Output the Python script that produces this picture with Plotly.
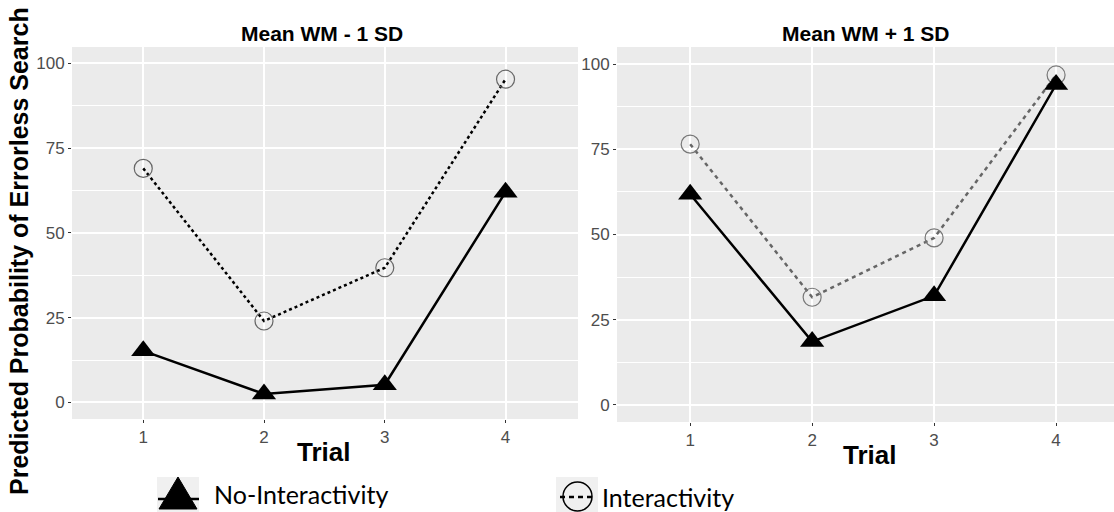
import plotly.graph_objects as go

# ---- data ----
trials = [1, 2, 3, 4]
low_no_int = [15.2, 2.5, 5.2, 62.0]
low_int = [69.0, 24.0, 39.7, 95.3]
high_no_int = [61.8, 18.6, 32.0, 94.0]
high_int = [76.5, 31.6, 49.0, 96.8]
panel_titles = ["Mean WM - 1 SD", "Mean WM + 1 SD"]
y_ticks = [0, 25, 50, 75, 100]
legend_labels = ["No-Interactivity", "Interactivity"]

W, H = 1114, 512
TXT = "Liberation Sans, Arial, sans-serif"
BG = "#ebebeb"

def px(x):
    return x / W

def py(y):
    return 1 - y / H

fig = go.Figure()

# left panel
fig.add_trace(go.Scatter(x=trials, y=low_int, mode="lines+markers",
                         line=dict(color="black", width=2.5, dash="3px,3px"),
                         marker=dict(symbol="circle-open", size=18, color="#666666", line=dict(width=1.2)),
                         xaxis="x", yaxis="y", showlegend=False))
fig.add_trace(go.Scatter(x=trials, y=low_no_int, mode="lines+markers",
                         line=dict(color="black", width=2.5),
                         marker=dict(symbol="triangle-up", size=21, color="black"),
                         xaxis="x", yaxis="y", showlegend=False))
# right panel
fig.add_trace(go.Scatter(x=trials, y=high_int, mode="lines+markers",
                         line=dict(color="#666666", width=2.5, dash="4px,4px"),
                         marker=dict(symbol="circle-open", size=18, color="#777777", line=dict(width=1.2)),
                         xaxis="x2", yaxis="y2", showlegend=False))
fig.add_trace(go.Scatter(x=trials, y=high_no_int, mode="lines+markers",
                         line=dict(color="black", width=2.5),
                         marker=dict(symbol="triangle-up", size=21, color="black"),
                         xaxis="x2", yaxis="y2", showlegend=False))

common_x = dict(tickvals=trials, ticktext=[str(t) for t in trials], showgrid=True,
                gridcolor="white", gridwidth=1.5, zeroline=False, ticks="outside",
                ticklen=3, tickcolor="#333333", tickfont=dict(family=TXT, size=17, color="#4d4d4d"),
                showline=False)
common_y = dict(tickvals=y_ticks, showgrid=True, gridcolor="white", gridwidth=1.5,
                zeroline=False, ticks="outside", ticklen=3, tickcolor="#333333",
                tickfont=dict(family=TXT, size=17, color="#4d4d4d"),
                minor=dict(tickvals=[12.5, 37.5, 62.5, 87.5], showgrid=True, gridcolor="white", gridwidth=0.7, ticks=""),
                showline=False)

fig.update_layout(
    width=W, height=H, margin=dict(l=0, r=0, t=0, b=0),
    paper_bgcolor="white", plot_bgcolor=BG,
    xaxis=dict(domain=[px(72), px(578)], range=[0.41, 4.6], anchor="y", **common_x),
    yaxis=dict(domain=[py(419), py(47)], range=[-4.9, 104.8], anchor="x", **common_y),
    xaxis2=dict(domain=[px(617), 1.0], range=[0.4, 4.475], anchor="y2", **common_x),
    yaxis2=dict(domain=[py(422), py(47)], range=[-5.0, 105.0], anchor="x2", **common_y),
)

# legend keys (drawn in paper coordinates)
def P(x, y):
    return f"{px(x):.5f},{py(y):.5f}"

shapes = [
    dict(type="rect", xref="paper", yref="paper", x0=px(157), x1=px(199), y0=py(512), y1=py(477),
         fillcolor="#f0f0f0", line=dict(width=0), layer="below"),
    dict(type="rect", xref="paper", yref="paper", x0=px(556), x1=px(598), y0=py(512), y1=py(477),
         fillcolor="#f0f0f0", line=dict(width=0), layer="below"),
    dict(type="line", xref="paper", yref="paper", x0=px(158), x1=px(199), y0=py(499), y1=py(499),
         line=dict(color="black", width=2.5)),
    dict(type="path", xref="paper", yref="paper",
         path=f"M {P(159, 509)} L {P(197, 509)} L {P(178, 477)} Z",
         fillcolor="black", line=dict(color="black", width=1)),
    dict(type="line", xref="paper", yref="paper", x0=px(560), x1=px(594), y0=py(497), y1=py(497),
         line=dict(color="black", width=2.5, dash="5px,4px")),
    dict(type="circle", xref="paper", yref="paper", x0=px(563), x1=px(592), y0=py(511), y1=py(482),
         line=dict(color="black", width=1.5), fillcolor="rgba(0,0,0,0)"),
]
fig.update_layout(shapes=shapes)

ann = []
ann.append(dict(text="<b>" + panel_titles[0] + "</b>", x=px(322), y=py(33), xref="paper", yref="paper",
                showarrow=False, font=dict(family=TXT, size=21, color="black"), xanchor="center", yanchor="middle"))
ann.append(dict(text="<b>" + panel_titles[1] + "</b>", x=px(865), y=py(33), xref="paper", yref="paper",
                showarrow=False, font=dict(family=TXT, size=21, color="black"), xanchor="center", yanchor="middle"))
ann.append(dict(text="<b>Trial</b>", x=px(323), y=py(452), xref="paper", yref="paper",
                showarrow=False, font=dict(family=TXT, size=26, color="black"), xanchor="center", yanchor="middle"))
ann.append(dict(text="<b>Trial</b>", x=px(869), y=py(455), xref="paper", yref="paper",
                showarrow=False, font=dict(family=TXT, size=26, color="black"), xanchor="center", yanchor="middle"))
ann.append(dict(text="<b>Predicted Probability of Errorless Search</b>", x=px(19), y=py(251), xref="paper", yref="paper",
                showarrow=False, textangle=-90, font=dict(family=TXT, size=25, color="black"),
                xanchor="center", yanchor="middle"))
ann.append(dict(text=legend_labels[0], x=px(212), y=py(494), xref="paper", yref="paper",
                showarrow=False, font=dict(family="Lato, sans-serif", size=25, color="black"),
                xanchor="left", yanchor="middle"))
ann.append(dict(text=legend_labels[1], x=px(600), y=py(497), xref="paper", yref="paper",
                showarrow=False, font=dict(family="Lato, sans-serif", size=25, color="black"),
                xanchor="left", yanchor="middle"))
fig.update_layout(annotations=ann)

fig.write_html("out.html")
